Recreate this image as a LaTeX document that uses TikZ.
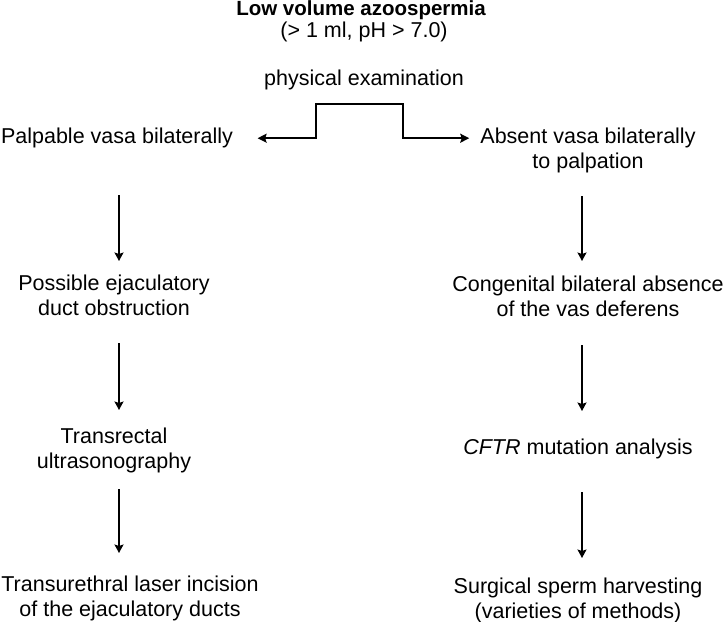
\documentclass[tikz,border=0pt]{standalone}
\usepackage{fontspec}
\setmainfont{Liberation Sans}
\usetikzlibrary{arrows.meta,calc}
\begin{document}
\begin{tikzpicture}[x=1pt,y=-1pt,
  txt/.style={inner sep=0pt, align=center, text=black, font=\fontsize{21.5}{25}\selectfont},
  box/.style={txt, anchor=north},
  arr/.style={line width=1.6pt, draw=black, -{Stealth[length=8.5pt,width=9pt,inset=1.5pt]}},
  brk/.style={line width=1.8pt, draw=black, {Stealth[length=9pt,width=9pt,inset=1.5pt]}-{Stealth[length=9pt,width=9pt,inset=1.5pt]}}]
\useasboundingbox (0,0) rectangle (724,622);

\node[txt, anchor=base, font=\fontsize{20.5}{24}\selectfont\bfseries] (title) at (361,15) {Low volume azoospermia};
\node[txt, anchor=base] (sub) at (364,37) {(> 1 ml, pH > 7.0)};
\node[txt, anchor=base] (phys) at (364,85) {physical examination};

\node[box] (pal) at (117,125.5) {\strut Palpable vasa bilaterally};
\node[box] (abs) at (588,125.5) {\strut Absent vasa bilaterally\\\strut to palpation};
\node[box] (ped) at (114,272.5) {\strut Possible ejaculatory\\\strut duct obstruction};
\node[box] (cbav) at (588,273.5) {\strut Congenital bilateral absence\\\strut of the vas deferens};
\node[box] (trus) at (114,425.5) {\strut Transrectal\\\strut ultrasonography};
\node[box] (cftr) at (578,436.5) {\strut\emph{CFTR} mutation analysis};
\node[box] (turl) at (130,574) {\strut Transurethral laser incision\\of the ejaculatory ducts};
\node[box] (ssh) at (578,575.5) {\strut Surgical sperm harvesting\\(varieties of methods)};

\coordinate (bk1) at (316,104);
\coordinate (bk2) at (403,104);
\draw[brk] ([xshift=24.5pt]pal.east) -| (bk1) -- (bk2) |- ($(abs.west |- pal.east)+(-11,0)$);

\draw[arr] ([xshift=2pt,yshift=-44.5pt]pal.south) -- ([xshift=5pt,yshift=11.5pt]ped.north);
\draw[arr] ([xshift=5pt,yshift=-20.5pt]ped.south) -- ([xshift=5pt,yshift=15.5pt]trus.north);
\draw[arr] ([xshift=5pt,yshift=-13.5pt]trus.south) -- ([xshift=-11pt,yshift=21pt]turl.north);

\draw[arr] ([xshift=-6pt,yshift=-20.5pt]abs.south) -- ([xshift=-6pt,yshift=12.5pt]cbav.north);
\draw[arr] ([xshift=-6pt,yshift=-21.5pt]cbav.south) -- ([xshift=4pt,yshift=25.5pt]cftr.north);
\draw[arr] ([xshift=4pt,yshift=-30.5pt]cftr.south) -- ([xshift=4pt,yshift=17.5pt]ssh.north);
\end{tikzpicture}
\end{document}
